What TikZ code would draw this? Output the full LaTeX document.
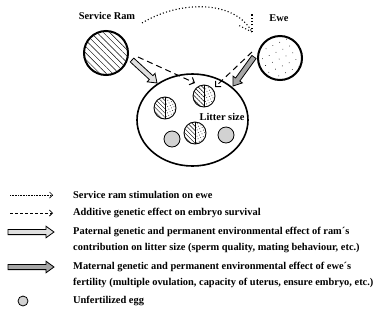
\documentclass[tikz,border=0pt]{standalone}
\usepackage{fontspec}
\setmainfont{Liberation Serif}
\usetikzlibrary{calc,patterns.meta,shapes.geometric,arrows.meta}
\tikzset{
  hatch/.style={pattern={Lines[angle=-45,distance=#1,line width=0.45pt]}},
  dotfill/.style={pattern={Dots[distance=#1,radius=0.45pt,angle=25]}},
  parent/.style={circle, draw, line width=2pt, minimum size=44pt, inner sep=0pt},
  egg/.style={circle, draw, line width=0.8pt, fill=gray!35, minimum size=#1, inner sep=0pt},
  dasharrow/.style={line width=1pt, dash pattern=on 6pt off 4pt, -{Straight Barb[length=4pt,width=8pt]}},
  dotline/.style={line width=1.1pt, dash pattern=on 1.1pt off 2.2pt, line cap=butt},
  legdot/.style={line width=0.7pt, dash pattern=on 0.7pt off 0.9pt, -{Straight Barb[length=3pt,width=6pt]}},
  legdash/.style={line width=0.8pt, dash pattern=on 3pt off 2pt, -{Straight Barb[length=3pt,width=6pt]}},
  lbl/.style={anchor=west, inner sep=0pt},
  fatarrow/.style={draw=black, line width=0.8pt, fill=#1, to path={
    let \p1=($(\tikztotarget)-(\tikztostart)$), \n1={atan2(\y1,\x1)},
        \n2={veclen(\x1,\y1)}, \n3={\n2-8} in
    ($(\tikztostart)+(\n1+90:2.6pt)$) --
    ($(\tikztostart)+(\n1:\n3)+(\n1+90:2.6pt)$) --
    ($(\tikztostart)+(\n1:\n3)+(\n1+90:5.8pt)$) --
    (\tikztotarget) --
    ($(\tikztostart)+(\n1:\n3)+(\n1-90:5.8pt)$) --
    ($(\tikztostart)+(\n1:\n3)+(\n1-90:2.6pt)$) --
    ($(\tikztostart)+(\n1-90:2.6pt)$) -- cycle}}
}
\newcommand{\myembryo}[3]{%
  \node[circle, minimum size=22pt, inner sep=0pt] (#1) at (#2,#3) {};
  \begin{scope}
    \clip (#2-12,#3-12) rectangle (#2,#3+12);
    \fill[hatch=3pt] (#1.center) circle[radius=11pt];
  \end{scope}
  \begin{scope}
    \clip (#2,#3-12) rectangle (#2+12,#3+12);
    \fill[dotfill=2.8pt] (#1.center) circle[radius=11pt];
  \end{scope}
  \draw[line width=0.6pt] (#1.north) -- (#1.south);
  \draw[line width=0.9pt] (#1.center) circle[radius=11pt];
}
\begin{document}
\begin{tikzpicture}[x=1pt,y=-1pt, font=\fontsize{10.4}{12.5}\selectfont\bfseries]
\useasboundingbox (0,0) rectangle (387,330);

% parents
\node[parent, hatch=4.5pt] (ram) at (106,53) {};
\node[parent, dotfill=7.5pt] (ewe) at (280,58) {};
\node (ramlbl) at (107,16) {Service Ram};
\node (ewelbl) at (279,18) {Ewe};

% litter
\node[ellipse, draw, line width=1.6pt, minimum width=111pt, minimum height=92pt, inner sep=0pt] (litter) at (192.5,120) {};
\myembryo{e1}{204}{96}
\myembryo{e2}{165}{108}
\myembryo{e3}{195}{133}
\node[egg=16pt] (g1) at (172,139) {};
\node[egg=16pt] (g2) at (226,135) {};
\node (lit) at (222,117) {Litter size};

% dotted stimulation arrow
\coordinate (s1) at (142,23);
\coordinate (s2) at (252,32);
\coordinate (sa) at (252,14);
\coordinate (sb) at (238,25);
\draw[dotline] (s1) .. controls (180,0) and (235,0) .. (s2);
\draw[dotline] (s2) -- (sa);
\draw[dotline] (s2) -- (sb);

% dashed arrows
\coordinate (rd1) at (138,57);
\coordinate (rd2) at (195,83);
\coordinate (ed1) at (252,52);
\coordinate (ed2) at (215,87);
\draw[dasharrow] (rd1) -- (rd2);
\draw[dasharrow] (ed1) -- (ed2);

% fat arrows
\coordinate (rf1) at (132,60);
\coordinate (rf2) at (157,83);
\coordinate (ef1) at (254,57);
\coordinate (ef2) at (233,86);
\draw[fatarrow=gray!25] (rf1) to (rf2);
\draw[fatarrow=gray!70] (ef1) to (ef2);

% legend
\coordinate (l1a) at (10,195); \coordinate (l1b) at (53,195);
\coordinate (l2a) at (10,213); \coordinate (l2b) at (53,213);
\coordinate (l3a) at (8,232);  \coordinate (l3b) at (54,232);
\coordinate (l4a) at (8,267);  \coordinate (l4b) at (54,267);
\draw[legdot] (l1a) -- (l1b);
\draw[legdash] (l2a) -- (l2b);
\draw[fatarrow=gray!25] (l3a) to (l3b);
\draw[fatarrow=gray!70] (l4a) to (l4b);
\node[egg=10pt] (lg) at (23,301) {};

\node[lbl] (t1) at (73,195) {Service ram stimulation on ewe};
\node[lbl] (t2) at (73,213) {Additive genetic effect on embryo survival};
\node[lbl] (t3) at (73,232) {Paternal genetic and permanent environmental effect of ram´s};
\node[lbl] (t3b) at (73,248) {contribution on litter size (sperm quality, mating behaviour, etc.)};
\node[lbl] (t4) at (73,267) {Maternal genetic and permanent environmental effect of ewe´s};
\node[lbl] (t4b) at (73,283) {fertility (multiple ovulation, capacity of uterus, ensure embryo, etc.)};
\node[lbl] (t5) at (73,301) {Unfertilized egg};
\end{tikzpicture}
\end{document}
